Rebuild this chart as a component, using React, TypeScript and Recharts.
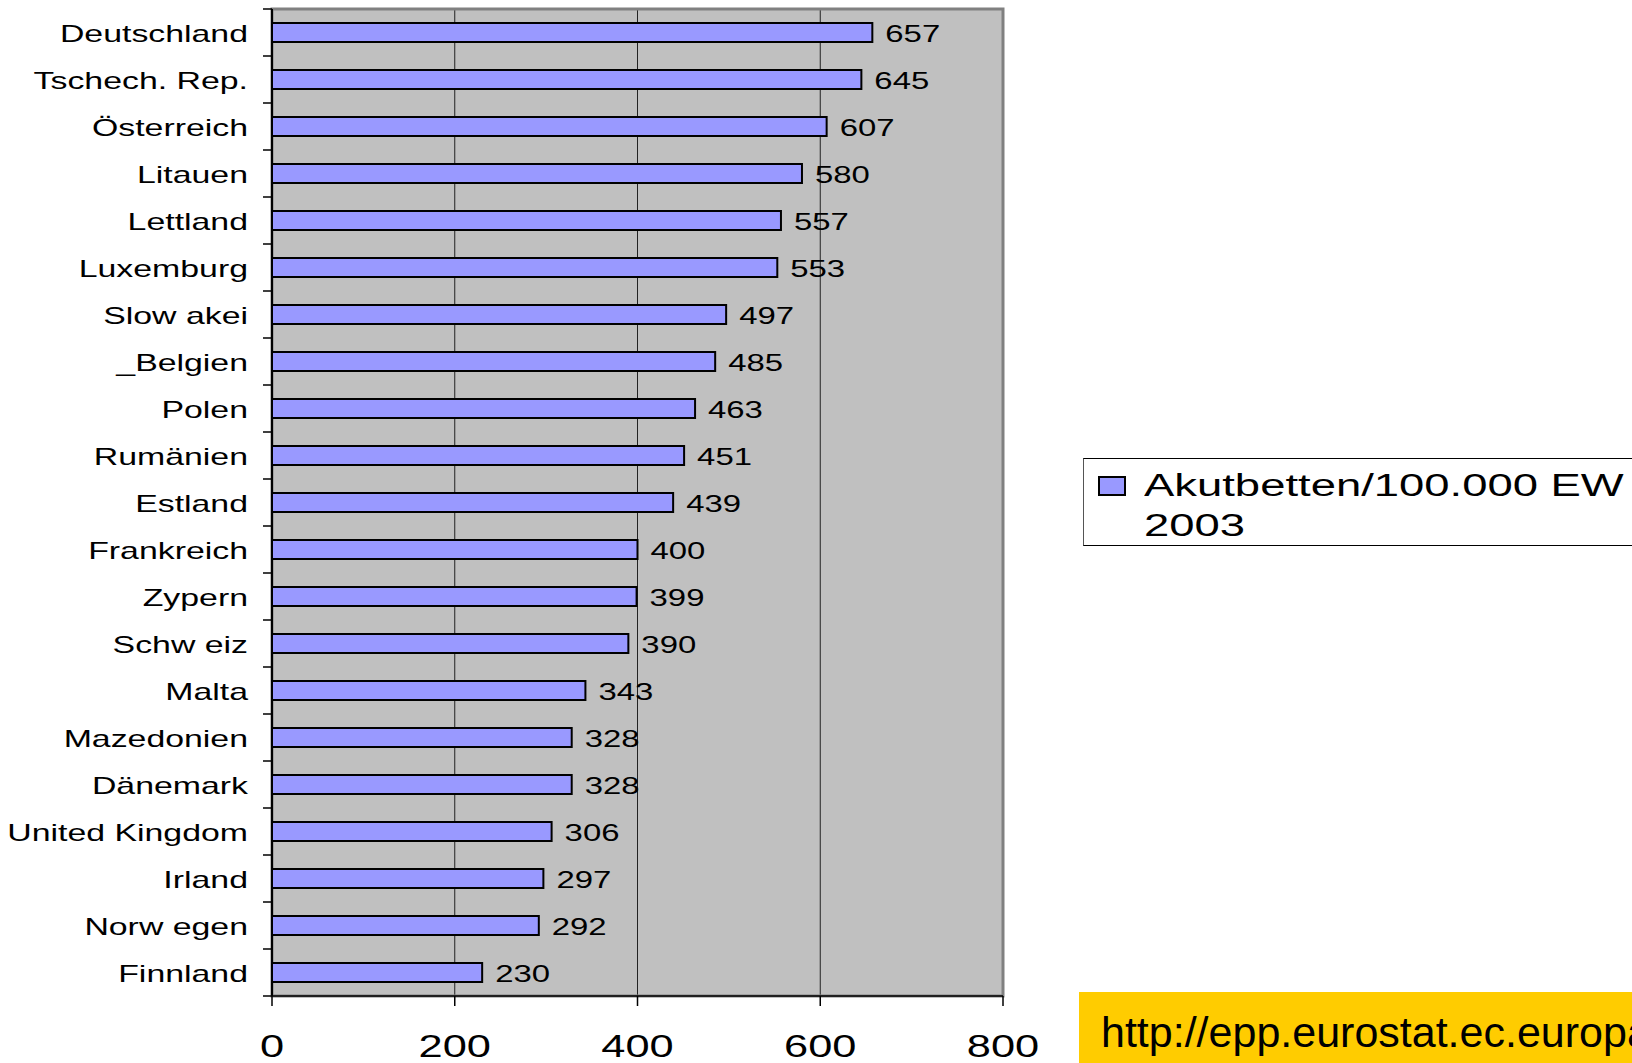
import React from 'react';
import { BarChart, Bar, XAxis, YAxis, CartesianGrid, Legend, LabelList, ReferenceArea } from 'recharts';

const countries = [
  'Deutschland', 'Tschech. Rep.', 'Österreich', 'Litauen', 'Lettland', 'Luxemburg', 'Slow akei',
  '_Belgien', 'Polen', 'Rumänien', 'Estland', 'Frankreich', 'Zypern', 'Schw eiz', 'Malta',
  'Mazedonien', 'Dänemark', 'United Kingdom', 'Irland', 'Norw egen', 'Finnland',
];
const beds = [657, 645, 607, 580, 557, 553, 497, 485, 463, 451, 439, 400, 399, 390, 343, 328, 328, 306, 297, 292, 230];
const xTicks = [0, 200, 400, 600, 800];
const seriesName = 'Akutbetten/100.000 EW 2003';
const sourceUrl = 'http://epp.eurostat.ec.europa.eu';

const data = countries.map((country, i) => ({ country, beds: beds[i] }));

const FONT = '"Liberation Sans", Arial, sans-serif';
const AXIS_X = 272;
const PLOT_TOP = 9;
const PLOT_BOTTOM = 996;
const BAND = (PLOT_BOTTOM - PLOT_TOP) / countries.length;

// the source image is stretched sideways, so the texts get a horizontal scale
function CountryTick(props: any) {
  const { y, payload, index } = props;
  const half = BAND / 2;
  return (
    <g>
      <line x1={AXIS_X - 9} x2={AXIS_X} y1={y - half} y2={y - half} stroke="#000" strokeWidth={1.5} />
      {index === countries.length - 1 && (
        <line x1={AXIS_X - 9} x2={AXIS_X} y1={y + half} y2={y + half} stroke="#000" strokeWidth={1.5} />
      )}
      <text
        transform={`translate(${AXIS_X - 24},${y + 1}) scale(1.41,1)`}
        textAnchor="end"
        dy="0.36em"
        fontSize={24}
        fontFamily={FONT}
        fill="#000"
      >
        {payload.value}
      </text>
    </g>
  );
}

function ValueTick(props: any) {
  const { x, payload } = props;
  return (
    <text
      transform={`translate(${x},${PLOT_BOTTOM + 61}) scale(1.4,1)`}
      textAnchor="middle"
      fontSize={31}
      fontFamily={FONT}
      fill="#000"
    >
      {payload.value}
    </text>
  );
}

function BarValue(props: any) {
  const { x, y, width, height, value } = props;
  return (
    <text
      transform={`translate(${x + width + 13},${y + height / 2 + 1}) scale(1.37,1)`}
      dy="0.36em"
      fontSize={24}
      fontFamily={FONT}
      fill="#000"
    >
      {value}
    </text>
  );
}

function LegendBox(props: any) {
  const item = props.payload && props.payload[0];
  const name: string = item ? item.value : seriesName;
  const cut = name.lastIndexOf(' ');
  const lines = [name.slice(0, cut), name.slice(cut + 1)];
  return (
    <div
      style={{
        position: 'relative',
        width: 600,
        height: 88,
        border: '1px solid #000',
        borderLeftColor: '#555',
        background: '#fff',
        fontFamily: FONT,
        boxSizing: 'border-box',
      }}
    >
      <div
        style={{
          position: 'absolute',
          left: 14,
          top: 17,
          width: 28,
          height: 20,
          background: item ? item.color : '#9999FF',
          border: '2px solid #000',
          boxSizing: 'border-box',
        }}
      />
      {lines.map((line, i) => (
        <div
          key={i}
          style={{
            position: 'absolute',
            left: 60,
            top: 7 + i * 40,
            fontSize: 31,
            lineHeight: '40px',
            whiteSpace: 'nowrap',
            transform: 'scaleX(1.465)',
            transformOrigin: 'left center',
            color: '#000',
          }}
        >
          {line}
        </div>
      ))}
    </div>
  );
}

export default function App() {
  return (
    <div
      style={{
        position: 'absolute',
        left: 0,
        top: 0,
        width: 1632,
        height: 1063,
        overflow: 'hidden',
        background: '#fff',
        fontFamily: FONT,
      }}
    >
      <BarChart
        width={1632}
        height={1063}
        data={data}
        layout="vertical"
        margin={{ top: PLOT_TOP, right: 629, bottom: 0, left: 0 }}
        barCategoryGap={0}
      >
        <CartesianGrid fill="#C0C0C0" horizontal={false} stroke="#222" strokeWidth={1} />
        <ReferenceArea x1={0} x2={800} fill="none" stroke="#808080" strokeWidth={3} />
        <XAxis
          type="number"
          domain={[0, 800]}
          ticks={xTicks}
          interval={0}
          height={67}
          axisLine={{ stroke: '#000', strokeWidth: 1.5 }}
          tickLine={{ stroke: '#000', strokeWidth: 1.5 }}
          tickSize={10}
          tick={<ValueTick />}
        />
        <YAxis
          type="category"
          dataKey="country"
          width={AXIS_X}
          interval={0}
          axisLine={{ stroke: '#000', strokeWidth: 2 }}
          tickLine={false}
          tick={<CountryTick />}
        />
        <Legend
          layout="horizontal"
          align="center"
          verticalAlign="middle"
          content={<LegendBox />}
          wrapperStyle={{ left: 1083, top: 458, width: 600, height: 88 }}
        />
        <Bar
          dataKey="beds"
          name={seriesName}
          fill="#9999FF"
          stroke="#000"
          strokeWidth={2}
          barSize={19}
          isAnimationActive={false}
        >
          <LabelList dataKey="beds" content={<BarValue />} />
        </Bar>
      </BarChart>
      <div
        style={{
          position: 'absolute',
          left: 1079,
          top: 992,
          width: 553,
          height: 71,
          background: '#FFCC00',
          overflow: 'hidden',
        }}
      >
        <div
          style={{
            position: 'absolute',
            left: 22,
            top: 17,
            fontSize: 43,
            lineHeight: '46px',
            whiteSpace: 'nowrap',
            color: '#000',
            fontFamily: FONT,
          }}
        >
          {sourceUrl}
        </div>
      </div>
    </div>
  );
}
